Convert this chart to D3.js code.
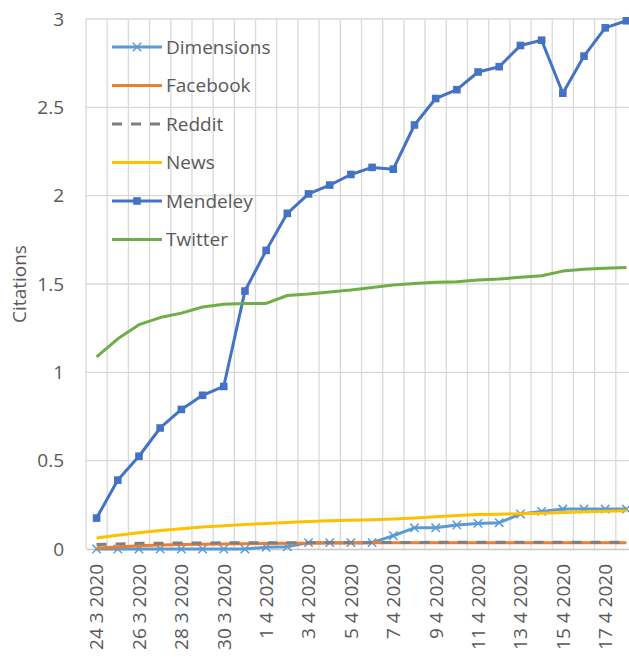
<!DOCTYPE html>
<html>
<head>
<meta charset="utf-8">
<script src="https://cdn.jsdelivr.net/npm/d3@7"></script>
<style>
  html, body { margin: 0; padding: 0; background: #fff; overflow: hidden; }
  svg { display: block; }
  text { font-family: "Open Sans", sans-serif; fill: #595959; }
</style>
</head>
<body>
<svg id="chart" width="629" height="657"></svg>
<script>
const dates = ["24 3 2020","25 3 2020","26 3 2020","27 3 2020","28 3 2020","29 3 2020","30 3 2020","31 3 2020",
  "1 4 2020","2 4 2020","3 4 2020","4 4 2020","5 4 2020","6 4 2020","7 4 2020","8 4 2020","9 4 2020",
  "10 4 2020","11 4 2020","12 4 2020","13 4 2020","14 4 2020","15 4 2020","16 4 2020","17 4 2020","18 4 2020"];

const dimensions = [0,0,0,0,0,0,0,0,0.01,0.013,0.036,0.036,0.036,0.036,0.075,0.12,0.12,0.136,0.145,0.149,0.198,0.213,0.226,0.226,0.226,0.226];
const facebook = [0.005,0.012,0.018,0.022,0.025,0.027,0.029,0.03,0.031,0.032,0.033,0.034,0.034,0.035,0.035,0.035,0.036,0.036,0.036,0.036,0.036,0.036,0.036,0.036,0.036,0.036];
const reddit = [0.025,0.029,0.032,0.033,0.034,0.034,0.035,0.035,0.035,0.036,0.036,0.037,0.037,0.037,0.037,0.037,0.038,0.038,0.038,0.038,0.038,0.038,0.038,0.038,0.038,0.038];
const news = [0.062,0.078,0.092,0.105,0.115,0.124,0.131,0.138,0.145,0.150,0.155,0.160,0.163,0.166,0.170,0.176,0.182,0.190,0.195,0.197,0.200,0.203,0.207,0.211,0.214,0.217];
const mendeley = [0.175,0.39,0.525,0.685,0.79,0.87,0.92,1.46,1.69,1.90,2.01,2.06,2.12,2.16,2.15,2.40,2.55,2.60,2.70,2.73,2.85,2.88,2.58,2.79,2.95,2.99];
const twitter = [1.087,1.19,1.27,1.31,1.335,1.37,1.385,1.39,1.39,1.435,1.443,1.455,1.466,1.48,1.494,1.503,1.51,1.513,1.522,1.528,1.538,1.547,1.573,1.583,1.589,1.594];

const yTicks = [0, 0.5, 1, 1.5, 2, 2.5, 3];
const xTickLabels = dates.filter((d, i) => i % 2 === 0);

const series = [
  {name: "Dimensions", values: dimensions, color: "#5B9BD5", marker: "x"},
  {name: "Facebook", values: facebook, color: "#ED7D31"},
  {name: "Reddit", values: reddit, color: "#7F7F7F", dash: "10,9"},
  {name: "News", values: news, color: "#FFC000"},
  {name: "Mendeley", values: mendeley, color: "#4472C4", marker: "square"},
  {name: "Twitter", values: twitter, color: "#70AD47"}
];

const FS = "19px";
const svg = d3.select("#chart");
const x = d3.scaleBand().domain(dates).range([86, 637]).paddingInner(0).paddingOuter(0);
const y = d3.scaleLinear().domain([0, 3]).range([549, 19]);
const cx = d => x(d) + x.bandwidth() / 2;

// gridlines
const grid = svg.append("g");
grid.selectAll("line.h").data(yTicks.filter(v => v > 0)).join("line")
  .attr("x1", x.range()[0]).attr("x2", x.range()[1])
  .attr("y1", d => y(d)).attr("y2", d => y(d))
  .attr("stroke", "#d9d9d9").attr("stroke-width", 1.3);
grid.selectAll("line.v").data(dates.concat(["__end"])).join("line")
  .attr("x1", (d, i) => x.range()[0] + i * x.bandwidth())
  .attr("x2", (d, i) => x.range()[0] + i * x.bandwidth())
  .attr("y1", y(3)).attr("y2", y(0))
  .attr("stroke", "#d9d9d9").attr("stroke-width", 1.3);

// axes
const yAxis = svg.append("g").attr("transform", `translate(${x.range()[0]},0)`)
  .call(d3.axisLeft(y).tickValues(yTicks).tickFormat(d => String(d)).tickSize(0).tickPadding(22));
yAxis.select(".domain").remove();
yAxis.selectAll("text").style("font-size", FS).attr("fill", "#595959").style("font-family", "'Open Sans', sans-serif");

const xAxis = svg.append("g").attr("transform", `translate(0,${y(0)})`)
  .call(d3.axisBottom(x).tickValues(xTickLabels).tickSize(0));
xAxis.select(".domain").attr("stroke", "#c8c8c8").attr("stroke-width", 1.3);
xAxis.selectAll("text")
  .style("font-size", FS).attr("fill", "#595959").style("font-family", "'Open Sans', sans-serif")
  .attr("text-anchor", "end")
  .attr("transform", "rotate(-90)")
  .attr("x", -15).attr("y", 0).attr("dy", "0.36em");

// y title
svg.append("text")
  .attr("transform", `translate(19,${(y(0) + y(3)) / 2}) rotate(-90)`)
  .attr("text-anchor", "middle").attr("dy", "0.36em")
  .style("font-size", FS).text("Citations");

// lines
const line = d3.line().x((d, i) => cx(dates[i])).y(d => y(d));
const plot = svg.append("g");
series.forEach(s => {
  plot.append("path").datum(s.values)
    .attr("d", line).attr("fill", "none")
    .attr("stroke", s.color).attr("stroke-width", 3)
    .attr("stroke-linejoin", "round")
    .attr("stroke-dasharray", s.dash || null);
  if (s.marker === "square") {
    plot.selectAll(null).data(s.values).join("rect")
      .attr("x", (d, i) => cx(dates[i]) - 3.8).attr("y", d => y(d) - 3.8)
      .attr("width", 7.6).attr("height", 7.6).attr("fill", s.color);
  } else if (s.marker === "x") {
    const g = plot.append("g");
    s.values.forEach((d, i) => {
      const px = cx(dates[i]), py = y(d), r = 4.2;
      g.append("path").attr("d", `M${px - r},${py - r}L${px + r},${py + r}M${px - r},${py + r}L${px + r},${py - r}`)
        .attr("stroke", s.color).attr("stroke-width", 1.5).attr("fill", "none");
    });
  }
});

// legend
const legY = [47, 85.5, 124, 162.5, 201, 239.5];
const leg = svg.append("g");
series.forEach((s, i) => {
  const ly = legY[i];
  leg.append("line").attr("x1", 112).attr("x2", 162).attr("y1", ly).attr("y2", ly)
    .attr("stroke", s.color).attr("stroke-width", 3).attr("stroke-dasharray", s.dash || null);
  if (s.marker === "square") {
    leg.append("rect").attr("x", 137 - 3.8).attr("y", ly - 3.8).attr("width", 7.6).attr("height", 7.6).attr("fill", s.color);
  } else if (s.marker === "x") {
    const r = 4.2;
    leg.append("path").attr("d", `M${137 - r},${ly - r}L${137 + r},${ly + r}M${137 - r},${ly + r}L${137 + r},${ly - r}`)
      .attr("stroke", s.color).attr("stroke-width", 1.5);
  }
  leg.append("text").attr("x", 166).attr("y", ly).attr("dy", "0.36em")
    .style("font-size", FS).text(s.name);
});
</script>
</body>
</html>
